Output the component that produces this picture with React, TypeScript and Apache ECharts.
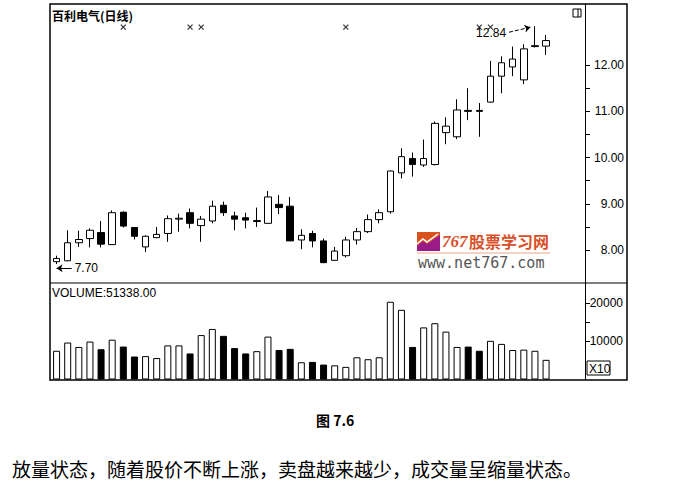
import React, { useEffect, useRef } from 'react';
import * as echarts from 'echarts';

// 48 trading-day slots on the x axis (the last three are left empty, as in the reference)
const slots = [
  '1', '2', '3', '4', '5', '6', '7', '8', '9', '10', '11', '12', '13', '14', '15', '16',
  '17', '18', '19', '20', '21', '22', '23', '24', '25', '26', '27', '28', '29', '30', '31', '32',
  '33', '34', '35', '36', '37', '38', '39', '40', '41', '42', '43', '44', '45', '46', '47', '48',
];

// [open, close, low, high]
const candles = [
  [7.75, 7.82, 7.70, 7.88],
  [7.77, 8.16, 7.76, 8.43],
  [8.16, 8.23, 8.07, 8.42],
  [8.25, 8.43, 8.06, 8.47],
  [8.38, 8.13, 8.06, 8.63],
  [8.12, 8.81, 8.12, 8.86],
  [8.82, 8.52, 8.49, 8.84],
  [8.49, 8.30, 8.23, 8.50],
  [8.07, 8.30, 7.96, 8.32],
  [8.27, 8.34, 8.26, 8.50],
  [8.36, 8.68, 8.18, 8.75],
  [8.67, 8.69, 8.40, 8.79],
  [8.81, 8.58, 8.47, 8.90],
  [8.53, 8.67, 8.18, 8.74],
  [8.63, 8.95, 8.58, 9.07],
  [8.97, 8.81, 8.74, 9.05],
  [8.74, 8.67, 8.43, 8.83],
  [8.70, 8.65, 8.47, 8.81],
  [8.62, 8.64, 8.50, 8.92],
  [8.58, 9.15, 8.57, 9.28],
  [8.99, 8.92, 8.78, 9.19],
  [8.95, 8.20, 8.20, 9.15],
  [8.22, 8.32, 8.02, 8.45],
  [8.36, 8.20, 8.06, 8.42],
  [8.20, 7.73, 7.72, 8.25],
  [7.78, 7.98, 7.77, 8.07],
  [7.88, 8.22, 7.84, 8.29],
  [8.22, 8.40, 8.12, 8.48],
  [8.40, 8.66, 8.37, 8.77],
  [8.66, 8.81, 8.58, 8.88],
  [8.83, 9.71, 8.79, 9.72],
  [9.67, 10.02, 9.55, 10.20],
  [9.98, 9.85, 9.59, 10.11],
  [9.84, 9.98, 9.80, 10.39],
  [9.85, 10.74, 9.83, 10.78],
  [10.54, 10.68, 10.29, 10.87],
  [10.45, 11.03, 10.40, 11.26],
  [11.02, 11.00, 10.81, 11.50],
  [11.02, 11.00, 10.45, 11.18],
  [11.20, 11.76, 11.19, 12.09],
  [11.76, 12.05, 11.39, 12.19],
  [11.96, 12.13, 11.76, 12.40],
  [11.68, 12.35, 11.59, 12.45],
  [12.40, 12.42, 12.38, 12.84],
  [12.41, 12.53, 12.22, 12.65],
];

// volume (shown in units of x10)
const volumes = [
  7500, 9650, 8500, 9900, 7900, 10400, 8600, 6000, 6100, 5600, 8900, 8900, 6800, 11600, 13200,
  11400, 8200, 6800, 7400, 11200, 7700, 8000, 4500, 4600, 3900, 3700, 3300, 5800, 5300, 5800,
  20300, 18200, 8500, 13600, 14700, 12500, 8500, 8600, 7500, 10100, 9300, 7700, 7800, 7500, 5134,
];

const priceLabels = [8, 9, 10, 11, 12];
const priceTicks = [8, 8.5, 9, 9.5, 10, 10.5, 11, 11.5, 12];
const volumeLabels = [10000, 20000];
const volumeTicks = [10000, 15000, 20000];

// event markers (x) drawn along the top of the price panel
const markerIdx = [6, 12, 13, 26, 38, 39];
const markerLevel = 12.82;

// annotated extremes
const annotatedPoints = [
  [0, 7.70],
  [43, 12.84],
];
const lowArrow = { fromX: 1.36, toX: 0, level: 7.61, text: '7.70' };
const highArrow = { fromX: 40.67, fromY: 12.71, toX: 42.6, toY: 12.82, text: '12.84' };

const PRICE_MIN = 7.29;
const PRICE_MAX = 13.32;
const VOL_MAX = 25200;

const FONT = '"Liberation Sans", Arial, sans-serif';
const CJK = '"Noto Sans CJK SC", sans-serif';

export default function App() {
  const ref = useRef<HTMLDivElement>(null);

  useEffect(() => {
    if (!ref.current) return;
    const chart = echarts.init(ref.current, undefined, { renderer: 'svg' });

    const isUp = (c: number[]) => c[1] >= c[0];

    const priceGrid = { left: 51, top: 4, width: 534, height: 279, containLabel: false, outerBoundsMode: 'none' };
    const volGrid = { left: 51, top: 283, width: 534, height: 96.5, containLabel: false, outerBoundsMode: 'none' };

    const hiddenCat = (gridIndex: number) => ({
      type: 'category',
      data: slots,
      gridIndex,
      boundaryGap: true,
      show: false,
      axisLine: { onZero: false },
    });

    const option: any = {
      animation: false,
      backgroundColor: '#ffffff',
      grid: [priceGrid, volGrid],
      xAxis: [
        hiddenCat(0),
        hiddenCat(1),
        {
          type: 'value',
          gridIndex: 0,
          min: -0.5,
          max: slots.length - 0.5,
          show: false,
          axisLine: { onZero: false },
        },
      ],
      yAxis: [
        {
          type: 'value',
          gridIndex: 0,
          position: 'right',
          min: PRICE_MIN,
          max: PRICE_MAX,
          axisLine: { show: true, onZero: false, lineStyle: { color: '#000', width: 1 } },
          axisTick: { show: true, inside: false, length: 5, customValues: priceTicks, lineStyle: { color: '#000' } },
          axisLabel: {
            show: true,
            customValues: priceLabels,
            formatter: (v: number) => v.toFixed(2),
            align: 'right',
            margin: 39,
            color: '#000',
            fontSize: 12,
            fontFamily: FONT,
          },
          splitLine: { show: false },
        },
        {
          type: 'value',
          gridIndex: 1,
          position: 'right',
          min: 0,
          max: VOL_MAX,
          axisLine: { show: true, onZero: false, lineStyle: { color: '#000', width: 1 } },
          axisTick: { show: true, length: 5, customValues: volumeTicks, lineStyle: { color: '#000' } },
          axisLabel: {
            show: true,
            customValues: volumeLabels,
            formatter: (v: number) => String(v),
            align: 'right',
            margin: 38,
            color: '#000',
            fontSize: 12,
            fontFamily: FONT,
          },
          splitLine: { show: false },
        },
      ],
      series: [
        {
          type: 'candlestick',
          xAxisIndex: 0,
          yAxisIndex: 0,
          barWidth: 7,
          data: candles,
          itemStyle: {
            color: '#ffffff',
            color0: '#000000',
            borderColor: '#000000',
            borderColor0: '#000000',
            borderColorDoji: '#000000',
            borderWidth: 1,
          },
        },
        {
          type: 'bar',
          xAxisIndex: 1,
          yAxisIndex: 1,
          barWidth: 7,
          data: volumes.map((v, i) => ({
            value: v,
            itemStyle: isUp(candles[i])
              ? { color: '#ffffff', borderColor: '#000', borderWidth: 1 }
              : { color: '#000000', borderColor: '#000', borderWidth: 1 },
          })),
        },
        {
          type: 'scatter',
          xAxisIndex: 0,
          yAxisIndex: 0,
          symbol: 'path://M0,0L10,10M10,0L0,10',
          symbolSize: 5,
          itemStyle: { color: 'transparent', borderColor: '#000', borderWidth: 1.2 },
          data: markerIdx.map((i) => [i, markerLevel]),
        },
        {
          type: 'scatter',
          xAxisIndex: 2,
          yAxisIndex: 0,
          symbolSize: 0,
          data: annotatedPoints,
          markLine: {
            silent: true,
            symbol: ['none', 'arrow'],
            symbolSize: 6,
            lineStyle: { color: '#000', width: 1, type: 'solid' },
            label: {
              show: true,
              position: 'start',
              distance: 3,
              color: '#000',
              fontSize: 12,
              fontFamily: FONT,
            },
            data: [
              [
                { coord: [lowArrow.fromX, lowArrow.level], label: { formatter: lowArrow.text } },
                { coord: [lowArrow.toX, lowArrow.level] },
              ],
              [
                {
                  coord: [highArrow.fromX, highArrow.fromY],
                  lineStyle: { type: 'dashed' },
                  label: { formatter: highArrow.text },
                },
                { coord: [highArrow.toX, highArrow.toY] },
              ],
            ],
          },
        },
      ],
      graphic: [
        {
          type: 'rect',
          z: 100,
          shape: { x: 50, y: 4, width: 577, height: 376 },
          style: { fill: 'none', stroke: '#000', lineWidth: 1.5 },
          silent: true,
        },
        {
          type: 'line',
          z: 100,
          shape: { x1: 50, y1: 283, x2: 627, y2: 283 },
          style: { stroke: '#000', lineWidth: 1.2 },
          silent: true,
        },
        // panel icon
        {
          type: 'rect',
          z: 100,
          shape: { x: 573, y: 9, width: 8, height: 8 },
          style: { fill: 'none', stroke: '#000', lineWidth: 1 },
        },
        {
          type: 'line',
          z: 100,
          shape: { x1: 578, y1: 9, x2: 578, y2: 17 },
          style: { stroke: '#000', lineWidth: 1 },
        },
        // titles
        {
          type: 'text',
          z: 100,
          x: 52,
          y: 15,
          style: {
            text: '百利电气(日线)',
            fill: '#000',
            font: `bold 12px ${CJK}`,
            textVerticalAlign: 'middle',
          },
        },
        {
          type: 'text',
          z: 100,
          x: 52,
          y: 293,
          style: { text: 'VOLUME:51338.00', fill: '#000', font: `12px ${FONT}`, textVerticalAlign: 'middle' },
        },
        // x10 box
        {
          type: 'rect',
          z: 100,
          shape: { x: 587, y: 361, width: 23, height: 14 },
          style: { fill: '#fff', stroke: '#000', lineWidth: 1 },
        },
        {
          type: 'text',
          z: 101,
          x: 589,
          y: 368.5,
          style: { text: 'X10', fill: '#000', font: `12px ${FONT}`, textVerticalAlign: 'middle' },
        },
        // watermark
        {
          type: 'rect',
          z: 50,
          shape: { x: 417, y: 232, width: 23, height: 19 },
          style: { fill: '#d9531f' },
        },
        {
          type: 'polygon',
          z: 51,
          shape: { points: [[417, 251], [417, 246], [423, 241], [427, 244], [440, 235], [440, 251]] },
          style: { fill: '#9b1b86' },
        },
        {
          type: 'polyline',
          z: 52,
          shape: { points: [[417, 244], [423, 239], [427, 242], [438, 234]] },
          style: { stroke: '#ffffff', lineWidth: 1.5, fill: 'none' },
        },
        {
          type: 'text',
          z: 50,
          x: 442,
          y: 241,
          style: {
            text: '767',
            fill: '#d9502a',
            font: `italic bold 17px "Liberation Serif", serif`,
            textVerticalAlign: 'middle',
          },
        },
        {
          type: 'text',
          z: 50,
          x: 469,
          y: 241,
          style: {
            text: '股票学习网',
            fill: '#d9502a',
            font: `bold 16px ${CJK}`,
            textVerticalAlign: 'middle',
          },
        },
        {
          type: 'line',
          z: 50,
          shape: { x1: 417, y1: 253, x2: 550, y2: 253 },
          style: { stroke: '#eaa585', lineWidth: 1 },
        },
        {
          type: 'text',
          z: 50,
          x: 418,
          y: 263,
          style: {
            text: 'www.net767.com',
            fill: '#555',
            font: `15px "DejaVu Sans Mono", monospace`,
            textVerticalAlign: 'middle',
          },
        },
        // figure caption
        {
          type: 'text',
          x: 316,
          y: 420,
          style: { text: '图 7.6', fill: '#000', font: `bold 14px ${CJK}`, textVerticalAlign: 'middle' },
        },
        {
          type: 'text',
          x: 12,
          y: 468,
          style: {
            text: '放量状态，随着股价不断上涨，卖盘越来越少，成交量呈缩量状态。',
            fill: '#000',
            font: `19px ${CJK}`,
            textVerticalAlign: 'middle',
          },
        },
      ],
    };

    chart.setOption(option);
    return () => chart.dispose();
  }, []);

  return (
    <div
      ref={ref}
      style={{ position: 'absolute', left: 0, top: 0, width: 673, height: 485, background: '#fff' }}
    />
  );
}
